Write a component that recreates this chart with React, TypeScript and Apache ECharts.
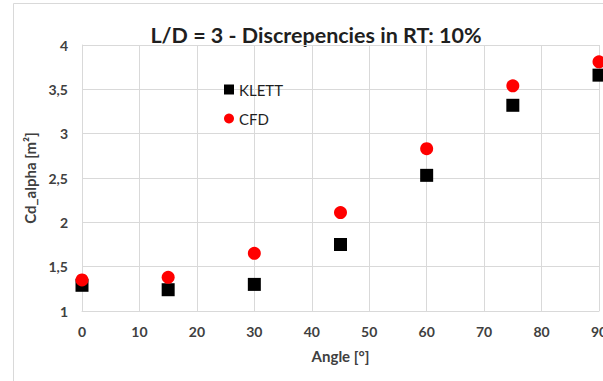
import React, { useEffect, useRef } from "react";
import * as echarts from "echarts";

// Angle of attack in degrees
const angles = [0, 15, 30, 45, 60, 75, 90];
// Drag coefficient × area, KLETT method
const klett = [1.29, 1.24, 1.3, 1.75, 2.53, 3.32, 3.66];
// Drag coefficient × area, CFD results
const cfd = [1.35, 1.38, 1.65, 2.11, 2.83, 3.54, 3.81];

const titleText = "L/D = 3 - Discrepencies in RT: 10%";
const FONT = "Lato, 'Open Sans', 'Liberation Sans', sans-serif";

export default function App() {
  const ref = useRef<HTMLDivElement>(null);

  useEffect(() => {
    if (!ref.current) return;
    const chart = echarts.init(ref.current, undefined, { renderer: "svg" });
    const axisLabel = {
      color: "#404040",
      fontFamily: FONT,
      fontWeight: "bold" as const,
      fontSize: 14,
    };
    chart.setOption({
      animation: false,
      backgroundColor: "#ffffff",
      textStyle: { fontFamily: FONT },
      graphic: [
        {
          type: "rect",
          z: -10,
          shape: { x: 13.5, y: 3.5, width: 700, height: 500 },
          style: { fill: "none", stroke: "#d9d9d9", lineWidth: 1 },
        },
        {
          type: "text",
          style: {
            text: titleText,
            x: 316,
            y: 35,
            align: "center",
            verticalAlign: "middle",
            fill: "#1f1f1f",
            font: `bold 21.5px ${FONT}`,
          },
        },
      ],
      legend: {
        orient: "vertical",
        left: 219,
        top: 77,
        itemWidth: 10,
        itemHeight: 10,
        itemGap: 14,
        textStyle: { color: "#1f1f1f", fontSize: 15, fontFamily: FONT },
        data: [
          { name: "KLETT", icon: "rect" },
          { name: "CFD", icon: "circle" },
        ],
      },
      grid: { left: 82, right: 4, top: 45, bottom: 70, outerBoundsMode: "none", containLabel: false },
      xAxis: {
        type: "value",
        min: 0,
        max: 90,
        interval: 10,
        name: "Angle [°]",
        nameLocation: "middle",
        nameGap: 37,
        nameTextStyle: { ...axisLabel, fontSize: 15 },
        axisLine: { show: true, lineStyle: { color: "#d9d9d9" } },
        axisTick: { show: false },
        axisLabel: { ...axisLabel, margin: 13 },
        splitLine: { show: true, lineStyle: { color: "#d9d9d9" } },
      },
      yAxis: {
        type: "value",
        min: 1,
        max: 4,
        interval: 0.5,
        name: "Cd_alpha [m²]",
        nameLocation: "middle",
        nameGap: 37,
        nameRotate: 90,
        nameTextStyle: { ...axisLabel, fontSize: 15 },
        axisLine: { show: true, lineStyle: { color: "#d9d9d9" } },
        axisTick: { show: false },
        axisLabel: {
          ...axisLabel,
          margin: 14,
          formatter: (v: number) => String(v).replace(".", ","),
        },
        splitLine: { show: true, lineStyle: { color: "#d9d9d9" } },
      },
      series: [
        {
          name: "KLETT",
          type: "scatter",
          symbol: "rect",
          symbolSize: 13,
          itemStyle: { color: "#000000", opacity: 1 },
          data: angles.map((a, i) => [a, klett[i]]),
        },
        {
          name: "CFD",
          type: "scatter",
          symbol: "circle",
          symbolSize: 13,
          itemStyle: { color: "#ff0000", opacity: 1 },
          data: angles.map((a, i) => [a, cfd[i]]),
        },
      ],
    });
    return () => chart.dispose();
  }, []);

  return <div ref={ref} style={{ width: 603, height: 381, position: "absolute", left: 0, top: 0 }} />;
}
